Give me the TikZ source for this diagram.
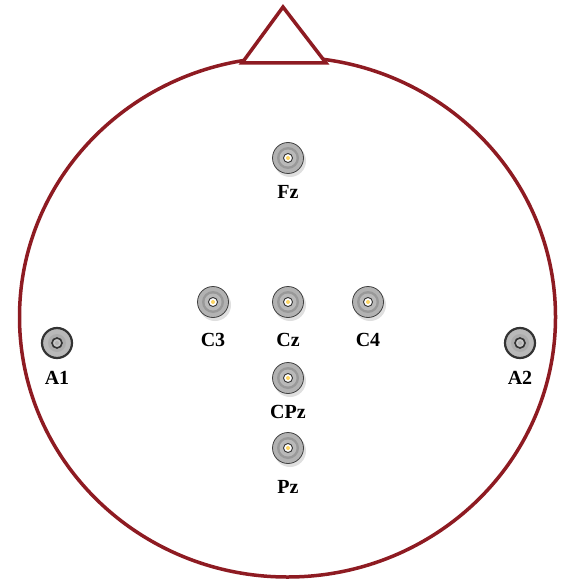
\documentclass[tikz,border=0pt]{standalone}
\usepackage{fontspec}
\setmainfont{Liberation Serif}
\definecolor{headred}{HTML}{8E1B22}
\begin{document}
\begin{tikzpicture}[x=1pt,y=-1pt,
  electrode/.style={circle,minimum size=31pt,inner sep=0pt,fill=gray!60,draw=gray!50!black,line width=0.8pt,
    path picture={
      \fill[gray!80] (path picture bounding box.center) circle (11pt);
      \fill[gray!55] (path picture bounding box.center) circle (8.5pt);
      \filldraw[fill=white,draw=black!80,line width=0.9pt] (path picture bounding box.center) circle (4.5pt);
      \fill[yellow!50!orange!60] (path picture bounding box.center) circle (2pt);
    }},
  ear/.style={circle,minimum size=30pt,inner sep=0pt,fill=gray!55,draw=black!80,line width=2.2pt,
    path picture={
      \fill[gray!65] (path picture bounding box.center) circle (9pt);
      \filldraw[fill=gray!45,draw=black!80,line width=1.6pt] (path picture bounding box.center) circle (5pt);
      \fill[gray!60] (path picture bounding box.center) circle (2pt);
    }},
  shadow/.style={circle,minimum size=32pt,inner sep=0pt,fill=gray!25},
  lab/.style={font=\bfseries\fontsize{20}{22}\selectfont,inner sep=0pt}]
\useasboundingbox (0,0) rectangle (562,585);
\fill[white] (0,0) rectangle (562,585);
% head
\draw[headred,line width=3.5pt] (287.5,317) ellipse [x radius=268, y radius=260];
\coordinate (apex) at (283,7);
\coordinate (bl) at (242,63);
\coordinate (br) at (326,63);
\filldraw[fill=white,draw=headred,line width=3.5pt,line join=miter] (bl) -- (apex) -- (br) -- cycle;
% shadows
\foreach \x/\y in {288/158,213/302,288/302,368/302,288/378,288/448}
  \node[shadow] at (\x+2,\y+3) {};
% electrodes
\node[electrode] (Fz) at (288,158) {};
\node[electrode] (C3) at (213,302) {};
\node[electrode] (Cz) at (288,302) {};
\node[electrode] (C4) at (368,302) {};
\node[electrode] (CPz) at (288,378) {};
\node[electrode] (Pz) at (288,448) {};
\node[ear] (A1) at (57,343) {};
\node[ear] (A2) at (520,343) {};
% labels
\node[lab] (Fzl) at (288,192) {Fz};
\node[lab] (C3l) at (213,340) {C3};
\node[lab] (Czl) at (288,340) {Cz};
\node[lab] (C4l) at (368,340) {C4};
\node[lab] (A1l) at (57,378) {A1};
\node[lab] (A2l) at (520,378) {A2};
\node[lab] (CPzl) at (288,412) {CPz};
\node[lab] (Pzl) at (288,487) {Pz};
\end{tikzpicture}
\end{document}
